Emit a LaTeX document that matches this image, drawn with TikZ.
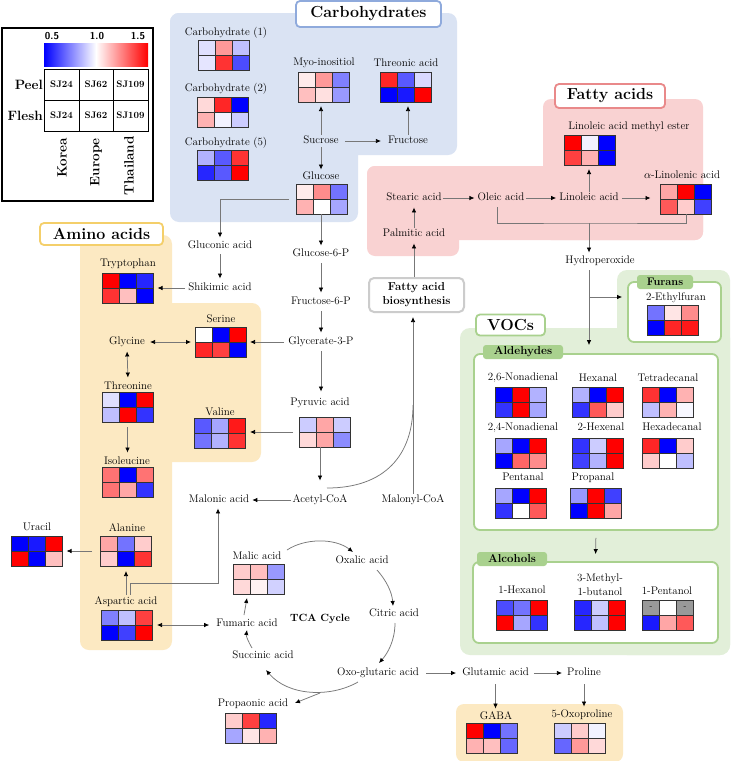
\documentclass[tikz,border=0pt]{standalone}
\usepackage{fontspec}
\usetikzlibrary{arrows.meta,calc}
\definecolor{carbbg}{HTML}{DAE3F3}
\definecolor{carbln}{HTML}{8FAADC}
\definecolor{fatbg}{HTML}{F9D2D2}
\definecolor{fatln}{HTML}{E9898A}
\definecolor{aminobg}{HTML}{FCE9C2}
\definecolor{aminoln}{HTML}{F4CF6A}
\definecolor{vocbg}{HTML}{E2EFD9}
\definecolor{vocln}{HTML}{A9D18E}
\definecolor{fabln}{HTML}{CCCCCC}
\definecolor{conn}{HTML}{777777}
\tikzset{
 lbl/.style={font=\fontsize{11}{13}\selectfont, inner sep=1pt, text height=8pt, text depth=2.5pt},
 hmbox/.style={minimum width=51pt, minimum height=30pt, inner sep=0pt, outer sep=0pt},
 hmgrid/.style={draw=black!80, line width=0.5pt},
 arr/.style={draw=conn, line width=0.75pt, -{Latex[length=5pt,width=4.5pt,color=black]}},
 dbl/.style={draw=conn, line width=0.75pt, {Latex[length=5pt,width=4.5pt,color=black]}-{Latex[length=5pt,width=4.5pt,color=black]}},
 ln/.style={draw=conn, line width=0.75pt},
 ttl/.style={draw=#1, fill=white, line width=1.8pt, rounded corners=4pt, font=\fontsize{16}{18}\selectfont\bfseries, inner sep=0pt},
 tabbox/.style={fill=vocln, rounded corners=3pt, font=\fontsize{11.5}{13}\selectfont\bfseries, inner sep=0pt, minimum height=14pt},
 grpbox/.style={draw=vocln, line width=1.8pt, fill=white, rounded corners=6pt, inner sep=0pt},
 sj/.style={font=\fontsize{9.5}{11}\selectfont\bfseries, inner sep=0pt},
 leg/.style={font=\fontsize{13.5}{15}\selectfont\bfseries, inner sep=0pt},
}
\newcommand{\hmap}[8]{%
 \node[hmbox] (#1) at (#2) {};
 \begin{scope}[shift={(#1.north west)}]
  \fill[#3] (0,0) rectangle (17,15);
  \fill[#4] (17,0) rectangle (34,15);
  \fill[#5] (34,0) rectangle (51,15);
  \fill[#6] (0,15) rectangle (17,30);
  \fill[#7] (17,15) rectangle (34,30);
  \fill[#8] (34,15) rectangle (51,30);
  \draw[hmgrid] (0,0) rectangle (51,30) (17,0) -- (17,30) (34,0) -- (34,30) (0,15) -- (51,15);
 \end{scope}}
\begin{document}
\begin{tikzpicture}[x=1pt,y=-1pt]
\fill[white] (0,0) rectangle (731,761);
\useasboundingbox (0,0) rectangle (731,761);
% ---------- backgrounds
\fill[carbbg, rounded corners=9pt] (170,13) rectangle (457,155);
\fill[carbbg, rounded corners=9pt] (170,13) rectangle (358,222);
\fill[fatbg, rounded corners=8pt] (543,99) rectangle (703,240);
\fill[fatbg, rounded corners=8pt] (367,166) rectangle (703,240);
\fill[fatbg, rounded corners=8pt] (367,166) rectangle (459,256);
\fill[aminobg, rounded corners=9pt] (80,235) rectangle (172,650);
\fill[aminobg, rounded corners=9pt] (80,303) rectangle (261,462);
\fill[vocbg, rounded corners=10pt] (617,270) rectangle (730,655);
\fill[vocbg, rounded corners=10pt] (460,328) rectangle (730,655);
\fill[aminobg, rounded corners=8pt] (456,704) rectangle (623,762);
% ---------- titles
\node[ttl=carbln, minimum width=145pt, minimum height=26pt] (tcarb) at (368.5,14) {Carbohydrates};
\node[ttl=fatln, minimum width=110pt, minimum height=24pt] (tfat) at (610,96) {Fatty acids};
\node[ttl=aminoln, minimum width=123pt, minimum height=22pt] (tamino) at (101.5,234) {Amino acids};
\node[ttl=vocln, minimum width=69pt, minimum height=21pt] (tvoc) at (510.5,325) {VOCs};
% ---------- VOC group boxes
\node[grpbox, minimum width=93pt, minimum height=60pt] (fur) at (674.5,312) {};
\node[grpbox, minimum width=244pt, minimum height=176pt] (ald) at (596,442) {};
\node[grpbox, minimum width=245pt, minimum height=81pt] (alc) at (595.5,602.5) {};
\node[tabbox, minimum width=56pt, font=\fontsize{11}{13}\selectfont\bfseries] (tfur) at (665,282) {Furans};
\node[tabbox, minimum width=80pt] (tald) at (523,352) {Aldehydes};
\node[tabbox, minimum width=70pt] (talc) at (512,559) {Alcohols};
% ---------- fatty acid biosynthesis
\node[draw=fabln, line width=2pt, fill=white, rounded corners=5pt, minimum width=95pt, minimum height=34pt, align=center, inner sep=0pt, font=\fontsize{11.5}{14}\selectfont\bfseries] (fab) at (416.5,295) {Fatty acid\\biosynthesis};
% ---------- legend
\draw[line width=1.6pt] (2,28) rectangle (153,201);
\shade[left color=blue, right color=red, middle color=white] (44,43) rectangle (148,66);
\node[font=\sffamily\bfseries\fontsize{10}{12}\selectfont, inner sep=0pt] (l05) at (52,36) {0.5};
\node[font=\sffamily\bfseries\fontsize{10}{12}\selectfont, inner sep=0pt] (l10) at (97,36) {1.0};
\node[font=\sffamily\bfseries\fontsize{10}{12}\selectfont, inner sep=0pt] (l15) at (138,36) {1.5};
\draw[line width=0.6pt] (44,69) rectangle (148,131) (79,69) -- (79,131) (113,69) -- (113,131) (44,100) -- (148,100);
\node[sj] (p1) at (61.5,84.5) {SJ24};
\node[sj] (p2) at (96,84.5) {SJ62};
\node[sj] (p3) at (130.5,84.5) {SJ109};
\node[sj] (f1) at (61.5,115.5) {SJ24};
\node[sj] (f2) at (96,115.5) {SJ62};
\node[sj] (f3) at (130.5,115.5) {SJ109};
\node[leg, anchor=east] (peel) at (43,85) {Peel};
\node[leg, anchor=east] (flesh) at (43,116) {Flesh};
\node[leg, rotate=90, anchor=east] (kor) at (62,138) {Korea};
\node[leg, rotate=90, anchor=east] (eur) at (96,138) {Europe};
\node[leg, rotate=90, anchor=east] (tha) at (129,136) {Thailand};
% ---------- heatmaps
\hmap{c1}{224,55.5}{blue!12}{red!40}{blue!25}{blue!10}{red!80}{blue!70}
\hmap{c2}{223,112.5}{red!15}{red!85}{blue}{red!30}{blue!5}{blue!20}
\hmap{c5}{223,165}{blue!30}{blue!65}{red!80}{blue!85}{blue!65}{red}
\hmap{myo}{324,87}{red!8}{red!40}{blue!50}{red!25}{red!12}{blue!40}
\hmap{thra}{406,87}{red!85}{blue!65}{blue!15}{blue}{blue!90}{red}
\hmap{glc}{322,199}{red!8}{red!45}{blue!55}{red!30}{white}{blue!35}
\hmap{lame}{589.5,150}{red}{blue!5}{blue}{red!75}{red!30}{blue}
\hmap{aln}{686,199}{red!35}{red}{blue}{red!65}{red!20}{blue!75}
\hmap{pyr}{324.5,432}{blue!20}{red!35}{blue!20}{red!15}{red!35}{blue!45}
\hmap{trp}{128,288}{red}{blue}{blue!85}{red!80}{red!25}{blue}
\hmap{ser}{220.5,342}{white}{blue}{red}{red!85}{red!75}{blue}
\hmap{thrn}{127.5,407}{blue!12}{blue}{red}{blue!25}{red}{blue!80}
\hmap{val}{219.5,433}{blue!65}{blue!35}{red!90}{blue!55}{blue!30}{red!80}
\hmap{ile}{127.5,482}{red!55}{blue}{red!55}{red!55}{red!35}{blue!80}
\hmap{ala}{125.5,551}{red!35}{blue!55}{red!20}{red!20}{blue}{red!80}
\hmap{ura}{37,551}{blue}{blue!90}{red}{red}{blue}{red!25}
\hmap{asp}{127,625}{blue!50}{blue!25}{red!75}{blue}{blue!75}{red}
\hmap{mal}{258.5,579}{red!20}{red!25}{blue!40}{red!15}{red!5}{blue!18}
\hmap{prop}{250.5,728}{red!20}{red!75}{blue!85}{blue!35}{red!10}{red!30}
\hmap{gaba}{491.5,738}{red}{blue}{blue!55}{red!30}{red!25}{blue!60}
\hmap{oxop}{580,738}{blue!20}{red!20}{blue!5}{blue!60}{red!40}{red!15}
\hmap{ef}{673,320}{blue!55}{red!10}{red!45}{blue}{red!85}{red!90}
\hmap{n26}{521,402}{blue}{red}{blue!30}{blue!80}{red}{blue!35}
\hmap{hex}{598,402}{blue!30}{blue}{red}{blue!80}{red!65}{red!20}
\hmap{tet}{668,402}{red!80}{blue}{red!30}{blue!25}{red!30}{blue!3}
\hmap{n24}{521,453}{blue!35}{blue}{red}{blue}{red!60}{red!45}
\hmap{hexe}{598,453}{blue!80}{blue!20}{red}{blue!75}{blue!30}{red}
\hmap{hexd}{668,453}{red!85}{blue}{red!20}{red!20}{white}{blue!25}
\hmap{pent}{521,503}{blue!35}{blue}{red}{blue!80}{white}{red!65}
\hmap{propa}{596,503}{blue!40}{red}{blue!75}{blue}{red}{red!35}
\hmap{hexo}{522,615}{blue!70}{blue!55}{red}{red}{blue!35}{blue!80}
\hmap{mb}{599.5,615}{blue!85}{blue!20}{red}{blue!85}{blue!25}{red}
\hmap{pento}{668,615}{black!40}{white}{black!40}{blue!90}{red!35}{red!65}
\node[font=\fontsize{8}{9}\selectfont, inner sep=0pt] (pd1) at ($(pento.north west)+(8.5,7.5)$) {-};
\node[font=\fontsize{8}{9}\selectfont, inner sep=0pt] (pd2) at ($(pento.north west)+(42.5,7.5)$) {-};
% ---------- labels
\node[lbl] (c1l) at (226,33) {Carbohydrate (1)};
\node[lbl] (c2l) at (226,89) {Carbohydrate (2)};
\node[lbl] (c5l) at (226,143) {Carbohydrate (5)};
\node[lbl] (myol) at (324,63) {Myo-inositiol};
\node[lbl] (thrl) at (406,64) {Threonic acid};
\node[lbl] (suc) at (321,141) {Sucrose};
\node[lbl] (fru) at (408,141) {Fructose};
\node[lbl] (glcl) at (321,177) {Glucose};
\node[lbl] (lamel) at (629,127) {Linoleic acid methyl ester};
\node[lbl] (stear) at (414,198) {Stearic acid};
\node[lbl] (olei) at (501,198) {Oleic acid};
\node[lbl] (linol) at (589,198) {Linoleic acid};
\node[lbl] (alnl) at (682,176) {$\alpha$-Linolenic acid};
\node[lbl] (palm) at (414,234) {Palmitic acid};
\node[lbl] (hydro) at (600,261) {Hydroperoxide};
\node[lbl] (gluco) at (220,246) {Gluconic acid};
\node[lbl] (shik) at (220,288) {Shikimic acid};
\node[lbl] (g6p) at (321,254) {Glucose-6-P};
\node[lbl] (f6p) at (321,302) {Fructose-6-P};
\node[lbl] (g3p) at (321,342) {Glycerate-3-P};
\node[lbl] (pyrl) at (320,403) {Pyruvic acid};
\node[lbl] (malon) at (219,500) {Malonic acid};
\node[lbl] (acet) at (320,500) {Acetyl-CoA};
\node[lbl] (malcoa) at (413,500) {Malonyl-CoA};
\node[lbl] (trpl) at (128,264) {Tryptophan};
\node[lbl] (serl) at (221,320) {Serine};
\node[lbl] (gly) at (127,342) {Glycine};
\node[lbl] (thrnl) at (128,387) {Threonine};
\node[lbl] (vall) at (220,413) {Valine};
\node[lbl] (ilel) at (127,462) {Isoleucine};
\node[lbl] (alal) at (127,529) {Alanine};
\node[lbl] (ural) at (37,528) {Uracil};
\node[lbl] (aspl) at (126,602) {Aspartic acid};
\node[lbl] (mall) at (257,557) {Malic acid};
\node[lbl] (oxal) at (362,561) {Oxalic acid};
\node[lbl] (citr) at (394,614) {Citric acid};
\node[lbl] (oxog) at (378,673) {Oxo-glutaric acid};
\node[lbl] (succ) at (263,656) {Succinic acid};
\node[lbl] (fuma) at (247,624) {Fumaric acid};
\node[lbl, font=\fontsize{10.5}{12}\selectfont\bfseries] (tca) at (320,619) {TCA Cycle};
\node[lbl] (propl) at (253,704) {Propaonic acid};
\node[lbl] (glut) at (495.5,673) {Glutamic acid};
\node[lbl] (prol) at (584,673) {Proline};
\node[lbl] (gabal) at (496,717) {GABA};
\node[lbl] (oxopl) at (582,715) {5-Oxoproline};
\node[lbl] (efl) at (676,298) {2-Ethylfuran};
\node[lbl] (n26l) at (523,378) {2,6-Nonadienal};
\node[lbl] (hexl) at (598,379) {Hexanal};
\node[lbl] (tetl) at (668,379) {Tetradecanal};
\node[lbl] (n24l) at (523,428) {2,4-Nonadienal};
\node[lbl] (hexel) at (601,428) {2-Hexenal};
\node[lbl] (hexdl) at (672,428) {Hexadecanal};
\node[lbl] (pentl) at (523,478) {Pentanal};
\node[lbl] (propal) at (593,478) {Propanal};
\node[lbl] (hexol) at (522,591) {1-Hexanol};
\node[lbl] (mbl1) at (600,579) {3-Methyl-};
\node[lbl] (mbl2) at (600,593) {1-butanol};
\node[lbl] (pentol) at (667,592) {1-Pentanol};
% ---------- connectors: carbohydrates
\draw[arr, shorten >=4pt] (suc.north) -- (suc.north |- myo.south);
\draw[arr, shorten >=4pt] (fru.north) -- (fru.north |- thra.south);
\draw[arr, shorten <=5pt, shorten >=6pt] (suc.east) -- (fru.west);
\draw[arr, shorten >=1pt] (suc.south) -- (suc.south |- glcl.north);
\draw[arr, shorten <=8pt, shorten >=2pt] (glc.west) -| (gluco.north);
\draw[arr, shorten >=2pt] (glc.south -| g6p) -- (g6p.north);
% glycolysis
\draw[arr, shorten <=3pt, shorten >=3pt] (g6p.south) -- (f6p.north);
\draw[arr, shorten <=3pt, shorten >=3pt] (f6p.south) -- (g3p.north);
\draw[arr, shorten <=3pt, shorten >=5pt] (g3p.south) -- (g3p.south |- pyrl.north);
\draw[arr, shorten >=13pt] (pyr.south -| acet) -- (acet.north);
\coordinate (cvs) at (327,488);
\coordinate (cve) at (413,405);
\draw[ln] (cvs) .. controls (385,488) and (413,455) .. (cve);
\draw[arr, shorten >=4pt] (malcoa.north) -- (malcoa.north |- fab.south);
\draw[arr, shorten >=3pt] (palm.south |- fab.north) -- (palm.south);
% fatty acids
\draw[arr, shorten >=3pt] (palm.north) -- (palm.north |- stear.south);
\draw[arr, shorten >=2pt] (stear.east) -- (olei.west);
\draw[arr, shorten >=2pt] (olei.east) -- (linol.west);
\draw[arr, shorten <=2pt, shorten >=10pt] (linol.east) -- (linol.east -| aln.west);
\draw[arr, shorten >=4pt] (linol.north) -- (linol.north |- lame.south);
\coordinate (brk) at (589,223);
\draw[ln, shorten <=3pt] ([xshift=-4pt]olei.south) |- (brk) -| (aln.south);
\draw[arr, shorten >=2pt] (brk) -- (brk |- hydro.north);
\draw[arr, shorten <=3pt, shorten >=8pt] (brk |- hydro.south) -- (brk |- ald.north);
\coordinate (fj) at (589,297);
\draw[arr, shorten >=5pt] (fj) -- (fj -| fur.west);
\draw[arr, shorten <=7pt, shorten >=7pt] (ald.south) -- (alc.north);
% amino acids
\draw[arr, shorten <=2pt, shorten >=3pt] (gluco.south) -- (shik.north);
\draw[arr, shorten <=2pt, shorten >=4pt] (shik.west) -- (trp.east);
\draw[arr, shorten <=3pt, shorten >=4pt] (g3p.west) -- (ser.east);
\draw[dbl, shorten <=4pt, shorten >=4pt] (gly.east) -- (ser.west);
\draw[dbl, shorten <=3pt, shorten >=3pt] (gly.south) -- (thrnl.north);
\draw[arr, shorten <=5pt, shorten >=3pt] (thrn.south) -- (thrn.south |- ilel.north);
\draw[arr, shorten <=6pt, shorten >=5pt] (pyr.west) -- (pyr.west -| val.east);
\draw[arr, shorten >=2pt] (acet.west) -- (malon.east);
\draw[arr, shorten <=8pt, shorten >=4pt] (ala.west) -- (ura.east);
\draw[arr, shorten <=1pt, shorten >=5pt] (aspl.north) -- (aspl.north |- ala.south);
\coordinate (am) at (218,583);
\draw[arr, shorten <=1pt, shorten >=2pt] ([xshift=4pt]aspl.north) |- (am) -- (am |- malon.south);
\draw[dbl, shorten <=4.5pt, shorten >=6pt] (asp.east) -- (asp.east -| fuma.west);
% TCA cycle
\draw[arr] (287,550) .. controls (305,538) and (335,538) .. (353,552);
\draw[arr] (377,570) .. controls (386,580) and (392,592) .. (393,606);
\draw[arr] (395,623) .. controls (395,640) and (388,653) .. (379,663);
\draw[arr] (358,682) .. controls (330,698) and (288,696) .. (266,670);
\draw[arr] (320,693) -- (295,703);
\draw[arr] (252,648) .. controls (248,641) and (246,636) .. (247,630);
\draw[arr] (244,615) -- (247,598);
% bottom right
\draw[arr, shorten <=6pt, shorten >=5pt] (oxog.east) -- (glut.west);
\draw[arr, shorten <=4pt, shorten >=4pt] (glut.east) -- (prol.west);
\draw[arr, shorten <=5pt, shorten >=2pt] (glut.south) -- (glut.south |- gabal.north);
\draw[arr, shorten <=5pt, shorten >=2pt] (prol.south) -- (prol.south |- oxopl.north);
\end{tikzpicture}
\end{document}
